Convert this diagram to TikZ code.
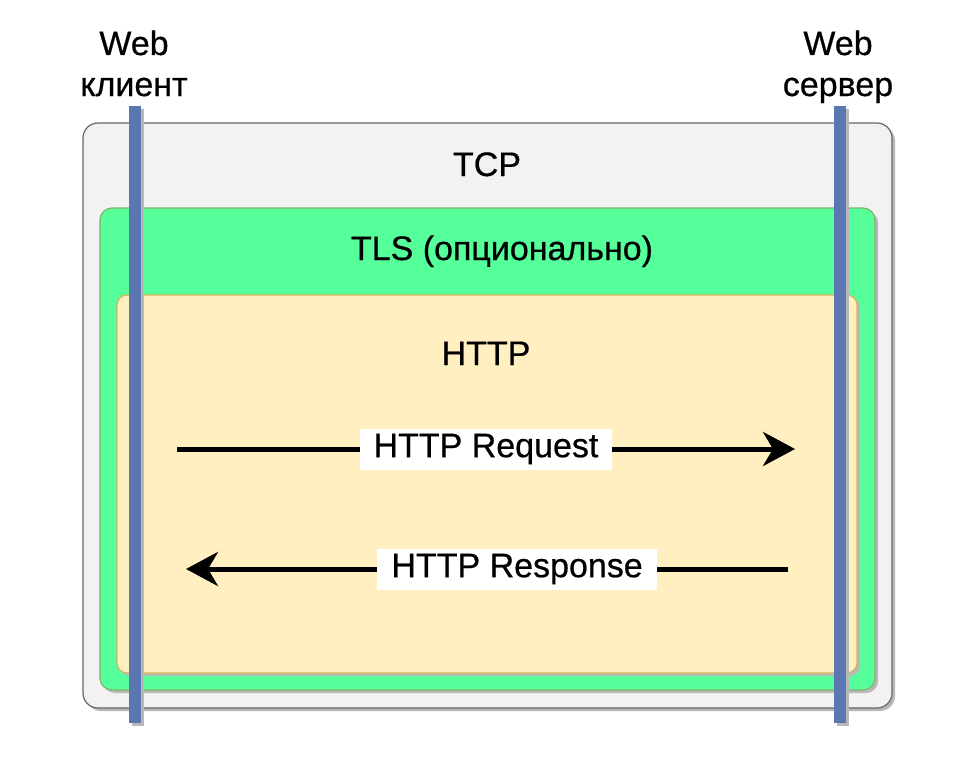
\documentclass[tikz,border=0pt]{standalone}
\usepackage{fontspec}
\setmainfont[FakeBold=0.6]{Liberation Sans}
\usetikzlibrary{arrows.meta,shadows}
\definecolor{tcpfill}{HTML}{F2F2F2}
\definecolor{tcpdraw}{HTML}{666666}
\definecolor{tlsfill}{HTML}{55FF9A}
\definecolor{tlsdraw}{HTML}{82B366}
\definecolor{httpfill}{HTML}{FFEFC1}
\definecolor{httpdraw}{HTML}{D6B656}
\definecolor{lifeblue}{HTML}{5A77B1}
\definecolor{shadowgray}{HTML}{B8B8B8}
\tikzset{
  shad/.style={drop shadow={shadow xshift=3pt, shadow yshift=-3pt, fill=shadowgray, opacity=1}},
  layerbox/.style={rectangle, anchor=north west, inner sep=0pt, outer sep=0pt, line width=1.2pt, shad},
  tcpbox/.style={layerbox, fill=tcpfill, draw=tcpdraw, rounded corners=15pt},
  tlsbox/.style={layerbox, fill=tlsfill, draw=tlsdraw, rounded corners=12pt},
  httpbox/.style={layerbox, fill=httpfill, draw=httpdraw, rounded corners=10pt},
  lbl/.style={font=\fontsize{34}{40}\selectfont, anchor=base, inner sep=0pt},
  msg/.style={font=\fontsize{34}{40}\selectfont, fill=white, inner xsep=14pt, inner ysep=0pt, minimum height=41pt},
  arr/.style={line width=5pt, -{Stealth[length=32pt, width=34pt, inset=10pt]}},
  lifeshadow/.style={line width=12pt, shadowgray},
  lifeline/.style={line width=12pt, lifeblue},
}
\begin{document}
\begin{tikzpicture}[x=1pt, y=-1pt]
\useasboundingbox (0,0) rectangle (978,760);
% layers
\node[tcpbox, minimum width=809pt, minimum height=585pt] (tcp) at (83,123) {};
\node[tlsbox, minimum width=775pt, minimum height=482pt] (tls) at (100,208) {};
\node[httpbox, minimum width=740pt, minimum height=378pt] (http) at (117,295) {};
% layer titles
\node[lbl] (tcpt) at (487,176) {TCP};
\node[lbl] (tlst) at (502,260) {TLS (опционально)};
\node[lbl] (httpt) at (486,365) {HTTP};
% messages
\coordinate (rqa) at (177,449);
\coordinate (rqb) at (795,449);
\coordinate (rsa) at (788,569);
\coordinate (rsb) at (186,569);
\draw[arr] (rqa) -- node[msg, pos=0.5] (rq) {HTTP Request} (rqb);
\draw[arr] (rsa) -- node[msg, pos=0.45] (rs) {HTTP Response} (rsb);
% lifelines
\coordinate (cltop) at (135,106);
\coordinate (clbot) at (135,723);
\coordinate (svtop) at (840,106);
\coordinate (svbot) at (840,723);
\draw[lifeshadow] ([shift={(3pt,-3pt)}]cltop) -- ([shift={(3pt,-3pt)}]clbot);
\draw[lifeshadow] ([shift={(3pt,-3pt)}]svtop) -- ([shift={(3pt,-3pt)}]svbot);
\draw[lifeline] (cltop) -- (clbot);
\draw[lifeline] (svtop) -- (svbot);
% actor labels
\node[lbl] (cl1) at (134,55) {Web};
\node[lbl] (cl2) at (134,96) {клиент};
\node[lbl] (sv1) at (838,55) {Web};
\node[lbl] (sv2) at (838,96) {сервер};
\end{tikzpicture}
\end{document}
